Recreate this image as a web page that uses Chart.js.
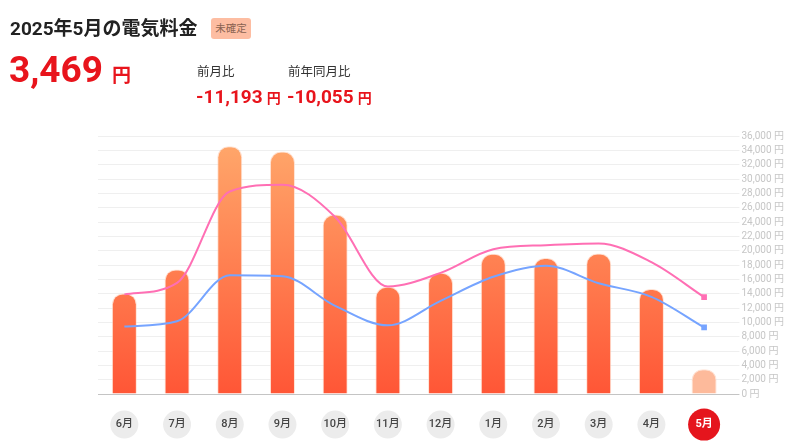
<!DOCTYPE html>
<html lang="ja">
<head>
<meta charset="utf-8">
<script src="https://cdn.jsdelivr.net/npm/chart.js@4.4.1/dist/chart.umd.min.js"></script>
<style>
  html, body { margin:0; padding:0; background:#fff; width:800px; height:446px; overflow:hidden; }
  body { font-family: Roboto, "Noto Sans CJK JP", sans-serif; position:relative; }
  #wrap { position:absolute; left:0; top:0; width:800px; height:446px; }
  .abs { position:absolute; white-space:nowrap; line-height:1; }
  #title { left:10px; top:19px; font-size:19px; font-weight:700; color:#222; }
  #badge { left:211px; top:18px; width:40px; height:21px; background:#FDBDA2; border-radius:3px;
           font-size:10.5px; color:#8a6250; text-align:center; line-height:21px; }
  #amount { left:9px; top:51px; font-size:37px; font-weight:700; color:#E8141C; }
  #amount .yen { font-size:19px; margin-left:9px; }
  .lbl { font-size:12.5px; color:#333; }
  .diff { font-size:19px; font-weight:700; color:#E8141C; }
  .diff .yen { font-size:14px; margin-left:4px; }
</style>
</head>
<body>
<div id="wrap"><canvas id="c" width="800" height="446"></canvas></div>
<div class="abs" id="title">2025年5月の電気料金</div>
<div class="abs" id="badge">未確定</div>
<div class="abs" id="amount">3,469<span class="yen">円</span></div>
<div class="abs lbl" style="left:197px; top:66px;">前月比</div>
<div class="abs lbl" style="left:288px; top:66px;">前年同月比</div>
<div class="abs diff" style="left:196px; top:87px;">-11,193<span class="yen">円</span></div>
<div class="abs diff" style="left:287px; top:87px;">-10,055<span class="yen">円</span></div>
<script>
const months = ["6月","7月","8月","9月","10月","11月","12月","1月","2月","3月","4月","5月"];
const charges = [14040, 17380, 34570, 33830, 25050, 14960, 16910, 19560, 18960, 19610, 14662, 3469];
const lastYear = [13900, 15500, 28250, 29200, 24700, 15000, 16900, 20200, 20770, 21000, 18400, 13524];
const average = [9430, 10150, 16560, 16430, 12300, 9580, 13000, 16360, 17900, 15450, 13560, 9290];
const yTickMax = 36000;
const yTickStep = 2000;

const lastIdx = months.length - 1;
const tickPad = 24;
const tickFont = 11;

const circlePlugin = {
  id: 'circles',
  beforeDraw(chart) {
    const xs = chart.scales.x;
    const ctx = chart.ctx;
    const cy = xs.top + tickPad + tickFont * 1.2 / 2;
    ctx.save();
    months.forEach((m, i) => {
      const cx = xs.getPixelForTick(i);
      ctx.beginPath();
      if (i === lastIdx) {
        ctx.fillStyle = '#E5151D';
        ctx.arc(cx, cy, 16, 0, Math.PI * 2);
      } else {
        ctx.fillStyle = '#ECECEC';
        ctx.arc(cx, cy, 14, 0, Math.PI * 2);
      }
      ctx.fill();
    });
    ctx.restore();
  }
};

function barColor(context) {
  if (context.dataIndex === lastIdx) return '#FDBA9B';
  const area = context.chart.chartArea;
  if (!area) return '#FF7A48';
  const g = context.chart.ctx.createLinearGradient(0, area.top, 0, area.bottom);
  g.addColorStop(0, '#FFA96C');
  g.addColorStop(1, '#FF5636');
  return g;
}

new Chart(document.getElementById('c'), {
  data: {
    labels: months,
    datasets: [
      {
        type: 'line', label: '前年', data: lastYear, order: 1,
        borderColor: '#FF6FB4', backgroundColor: '#FF6FB4', borderWidth: 2,
        cubicInterpolationMode: 'monotone',
        pointStyle: 'rect', pointRadius: (c) => c.dataIndex === lastIdx ? 4 : 0, pointBorderWidth: 0
      },
      {
        type: 'line', label: '平均', data: average, order: 1,
        borderColor: '#76A4FF', backgroundColor: '#76A4FF', borderWidth: 2,
        cubicInterpolationMode: 'monotone',
        pointStyle: 'rect', pointRadius: (c) => c.dataIndex === lastIdx ? 4 : 0, pointBorderWidth: 0
      },
      {
        type: 'bar', label: '電気料金', data: charges, order: 2,
        backgroundColor: barColor,
        borderColor: 'rgba(255,215,195,0.7)', borderWidth: 1,
        borderRadius: { topLeft: 11, topRight: 11, bottomLeft: 0, bottomRight: 0 },
        borderSkipped: 'bottom',
        barPercentage: 0.475, categoryPercentage: 1
      }
    ]
  },
  options: {
    responsive: false,
    animation: false,
    events: [],
    layout: { padding: { left: 98, top: 136, right: 14, bottom: 15 } },
    plugins: { legend: { display: false }, tooltip: { enabled: false } },
    scales: {
      x: {
        offset: true,
        grid: { display: false, drawTicks: false },
        border: { display: false },
        afterFit: (s) => { s.height = 37; },
        ticks: {
          padding: tickPad,
          maxRotation: 0, autoSkip: false,
          font: (c) => ({ family: 'Roboto, "Noto Sans CJK JP"', size: tickFont, weight: c.index === lastIdx ? '700' : '500' }),
          color: (c) => c.index === lastIdx ? '#ffffff' : '#444444'
        }
      },
      y: {
        position: 'right',
        min: 0, max: yTickMax,
        border: { display: false },
        grid: {
          color: (c) => c.tick && c.tick.value === 0 ? '#c4c4c4' : '#efefef',
          lineWidth: 1, tickLength: 9
        },
        ticks: {
          stepSize: yTickStep, padding: 2, autoSkip: false,
          font: { family: 'Roboto, "Noto Sans CJK JP"', size: 10 },
          color: '#c6c6c6',
          callback: (v) => v.toLocaleString('en-US') + ' 円'
        }
      }
    }
  },
  plugins: [circlePlugin]
});
</script>
</body>
</html>
